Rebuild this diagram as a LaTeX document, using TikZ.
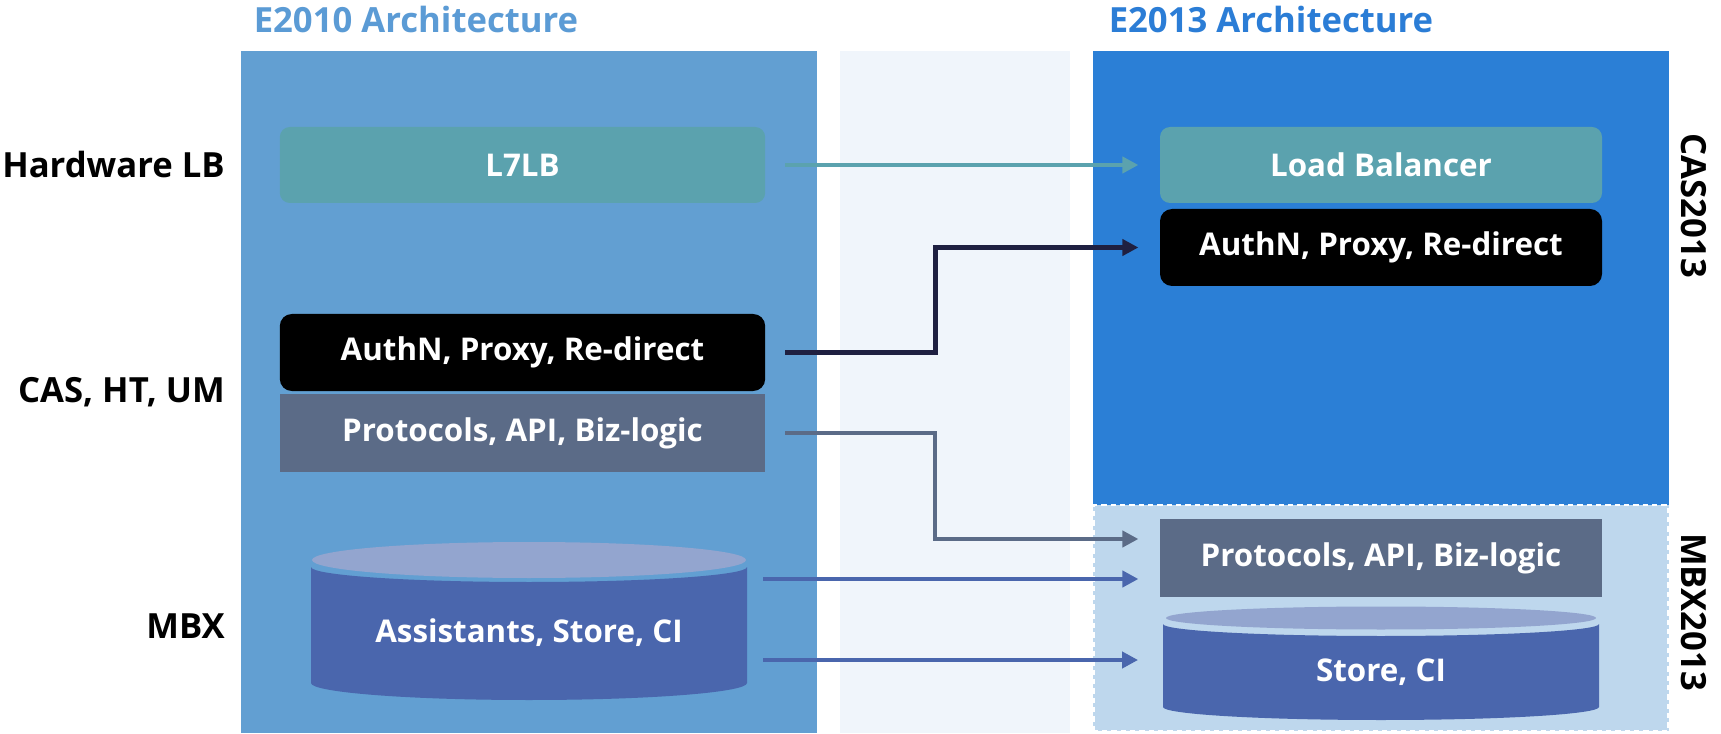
\documentclass[tikz,border=0pt]{standalone}
\usepackage{fontspec}
\setmainfont{Open Sans}
\usetikzlibrary{arrows.meta,calc,positioning}

\definecolor{oldpanel}{RGB}{98,159,210}
\definecolor{newpanel}{RGB}{43,127,214}
\definecolor{mbxpanel}{RGB}{190,215,237}
\definecolor{gapfill}{RGB}{240,245,251}
\definecolor{lbteal}{RGB}{91,162,174}
\definecolor{protogray}{RGB}{91,107,135}
\definecolor{storeblue}{RGB}{74,102,173}
\definecolor{storetop}{RGB}{147,165,207}
\definecolor{navyline}{RGB}{31,32,65}
\definecolor{oldtitle}{RGB}{91,155,213}
\definecolor{newtitle}{RGB}{43,125,214}

\tikzset{
  boxtext/.style={text=white,font=\bfseries\fontsize{23.5}{28}\selectfont},
  oldbox/.style={boxtext,minimum width=364pt,inner sep=0pt},
  newbox/.style={boxtext,minimum width=331.5pt,inner sep=0pt},
  sidelabel/.style={font=\bfseries\fontsize{26}{30}\selectfont,inner sep=0pt},
  archtitle/.style={font=\bfseries\fontsize{26}{30}\selectfont,inner sep=0pt},
  conn/.style={line width=3pt,-{Triangle[length=12pt,width=12pt]},shorten <=15pt,shorten >=16pt}
}

\begin{document}
\begin{tikzpicture}[x=0.75pt,y=0.75pt]
\useasboundingbox (0,0) rectangle (1721,733);
\fill[white] (0,0) rectangle (1721,733);
% panels
\fill[oldpanel] (241,0) rectangle (817,682);
\fill[gapfill] (840,0) rectangle (1070,682);
\fill[newpanel] (1093,228) rectangle (1669,682);
\fill[mbxpanel] (1093,2) rectangle (1669,228);
\draw[white,line width=2pt,dash pattern=on 4pt off 3pt] (1094,2) rectangle (1668,228);
\node[archtitle,text=oldtitle] (t2010) at (416,713) {E2010 Architecture};
\node[archtitle,text=newtitle] (t2013) at (1271,713) {E2013 Architecture};
% left side labels
\node[sidelabel,anchor=east] (hwlb) at (225,568) {Hardware LB};
\node[sidelabel,anchor=east] (casht) at (225,341) {CAS, HT, UM};
\node[sidelabel,anchor=east] (mbx) at (225,107) {MBX};
\node[sidelabel,rotate=-90] (cas13) at (1694,527) {CAS2013};
\node[sidelabel,rotate=-90] (mbx13) at (1694,121) {MBX2013};
% E2010 boxes
\node[oldbox,fill=lbteal,rounded corners=7.5pt,minimum height=57pt] (l7lb) at (522.5,568) {L7LB};
\node[oldbox,fill=black,rounded corners=9pt,minimum height=57.75pt] (lauth) at (522.5,380.5) {AuthN, Proxy, Re-direct};
\node[oldbox,fill=protogray,minimum height=58.5pt] (lproto) at (522.5,300) {Protocols, API, Biz-logic};
\fill[storeblue] (311,166) -- (311,50) arc[start angle=180,end angle=360,x radius=218,y radius=17]
  -- (747,166) arc[start angle=0,end angle=-180,x radius=218,y radius=15] -- cycle;
\fill[storetop] (529,173) ellipse[x radius=217,y radius=18];
\node[boxtext,minimum width=327pt,inner sep=0pt] (lstore) at (529,100) {Assistants, Store, CI};
% E2013 boxes
\node[newbox,fill=lbteal,rounded corners=7.5pt,minimum height=57pt] (lb) at (1381,568) {Load Balancer};
\node[newbox,fill=black,rounded corners=9pt,minimum height=57.75pt] (rauth) at (1381,485.5) {AuthN, Proxy, Re-direct};
\node[newbox,fill=protogray,minimum height=58.5pt] (rproto) at (1381,175) {Protocols, API, Biz-logic};
\fill[storeblue] (1163,109) -- (1163,26) arc[start angle=180,end angle=360,x radius=218,y radius=13]
  -- (1599,109) arc[start angle=0,end angle=-180,x radius=218,y radius=12] -- cycle;
\fill[storetop] (1381,115) ellipse[x radius=215,y radius=11.5];
\node[boxtext,minimum width=327pt,inner sep=0pt] (rstore) at (1381,61) {Store, CI};
% connectors
\draw[conn,lbteal] (l7lb) -- (lb);
\draw[conn,navyline,line width=3.5pt] (lauth.east) -- ($(lauth.east)+(170,0)$) |- (rauth.west);
\draw[conn,protogray] (lproto.east) -- ($(lproto.east)+(170,0)$) |- ($(rproto.west)+(0,19)$);
\draw[conn,storeblue,shorten <=12pt] ($(lstore.east)+(0,54)$) -- ($(rproto.west)+(0,-21)$);
\draw[conn,storeblue,shorten <=12pt,shorten >=18.5pt] ($(lstore.east)+(0,-27)$) -- ($(rstore.west)+(0,12)$);
\end{tikzpicture}
\end{document}
